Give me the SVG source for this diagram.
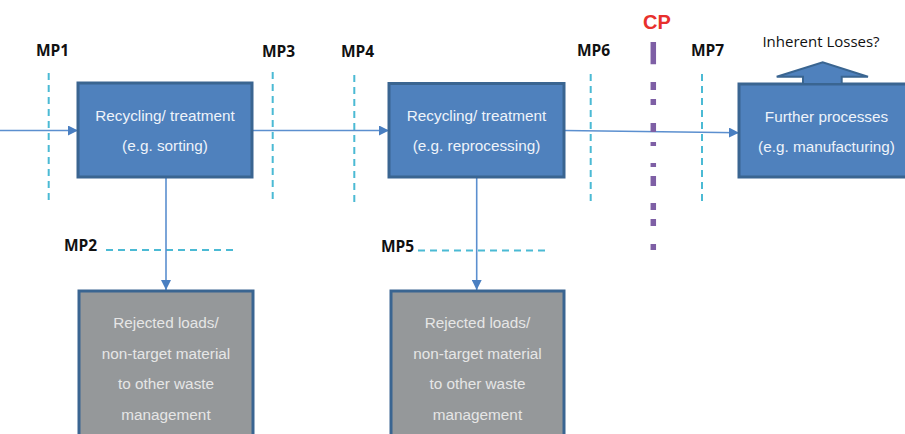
<svg xmlns="http://www.w3.org/2000/svg" width="905" height="434" viewBox="0 0 905 434">
<defs>
<style>
.box{fill:#4f81bd;stroke:#3a6591;stroke-width:3}
.grey{fill:#95989a;stroke:#3a6591;stroke-width:3}
.bt{font-family:"Liberation Sans",Arial,sans-serif;font-size:15.3px;fill:#eef3fa;text-anchor:middle}
.gt{font-family:"Liberation Sans",Arial,sans-serif;font-size:15.3px;fill:#e6e6e6;text-anchor:middle}
.mp{font-family:"Open Sans","Liberation Sans",sans-serif;font-weight:bold;font-size:15.5px;fill:#111}
.mpl{stroke:#4bbad4;stroke-width:2;stroke-dasharray:7 5;fill:none}
.con{stroke:#5b8fcf;stroke-width:1.6;fill:none}
</style>
<marker id="ah" viewBox="0 0 10 10" refX="10" refY="5" markerWidth="10" markerHeight="10" markerUnits="userSpaceOnUse" orient="auto">
<path d="M0,0 L10,5 L0,10 Z" fill="#4a7fc1"/>
</marker>
</defs>
<rect width="905" height="434" fill="#ffffff"/>

<g id="measure-points">
<line class="mpl" x1="48.7" y1="73" x2="48.7" y2="200"/>
<line class="mpl" x1="272.7" y1="72" x2="272.7" y2="200"/>
<line class="mpl" x1="354.3" y1="75" x2="354.3" y2="202"/>
<line class="mpl" x1="590.7" y1="74" x2="590.7" y2="202"/>
<line class="mpl" x1="702" y1="74" x2="702" y2="202"/>
<line class="mpl" x1="106" y1="250" x2="236" y2="250"/>
<line class="mpl" x1="418" y1="250.5" x2="546" y2="250.5"/>
<text class="mp" x="36" y="56">MP1</text>
<text class="mp" x="262" y="57">MP3</text>
<text class="mp" x="341" y="57">MP4</text>
<text class="mp" x="577" y="56">MP6</text>
<text class="mp" x="691" y="56">MP7</text>
<text class="mp" x="64" y="251">MP2</text>
<text class="mp" x="381" y="252">MP5</text>
</g>

<g id="connectors">
<line class="con" x1="0" y1="130.5" x2="78" y2="130.5" marker-end="url(#ah)"/>
<line class="con" x1="252" y1="130.5" x2="389" y2="130.5" marker-end="url(#ah)"/>
<line class="con" x1="564" y1="130.5" x2="739" y2="132.7" marker-end="url(#ah)"/>
<line class="con" x1="166" y1="177" x2="166" y2="290" marker-end="url(#ah)"/>
<line class="con" x1="476.7" y1="177" x2="476.7" y2="290" marker-end="url(#ah)"/>
</g>

<g id="cp">
<path d="M653.3,42V64.3M653.3,82V90M653.3,99V105M653.3,123V132M653.3,142V146M653.3,163V167M653.3,176V186M653.3,203V210M653.3,219V226M653.3,244V250" stroke="#7e5fa5" stroke-width="5.5" fill="none"/>
<text x="657" y="29" font-family="Liberation Sans,Arial,sans-serif" font-weight="bold" font-size="20" fill="#e8302c" text-anchor="middle">CP</text>
</g>

<g id="box1">
<rect class="box" x="78" y="83" width="174" height="94"/>
<text class="bt" x="165" y="121">Recycling/ treatment</text>
<text class="bt" x="165" y="151">(e.g. sorting)</text>
</g>

<g id="box2">
<rect class="box" x="389" y="83.5" width="175" height="93.5"/>
<text class="bt" x="476.5" y="121">Recycling/ treatment</text>
<text class="bt" x="476.5" y="151">(e.g. reprocessing)</text>
</g>

<g id="box3">
<rect class="box" x="739" y="84" width="180" height="93"/>
<text class="bt" x="826.5" y="122">Further processes</text>
<text class="bt" x="826.5" y="152">(e.g. manufacturing)</text>
</g>

<g id="losses">
<path d="M803,84 V76.7 H776.7 L822.7,62.3 L868,76.7 H841.7 V84 Z" fill="#4f81bd" stroke="#3a6591" stroke-width="2" stroke-linejoin="miter"/>
<text x="821" y="47" font-family="Open Sans,Liberation Sans,sans-serif" font-size="15" fill="#111" text-anchor="middle">Inherent Losses?</text>
</g>

<g id="reject1">
<rect class="grey" x="79" y="291" width="174" height="160"/>
<text class="gt" x="166" y="328">Rejected loads/</text>
<text class="gt" x="166" y="358.5">non-target material</text>
<text class="gt" x="166" y="389">to other waste</text>
<text class="gt" x="166" y="419.5">management</text>
</g>

<g id="reject2">
<rect class="grey" x="391" y="291" width="173" height="160"/>
<text class="gt" x="477.5" y="328">Rejected loads/</text>
<text class="gt" x="477.5" y="358.5">non-target material</text>
<text class="gt" x="477.5" y="389">to other waste</text>
<text class="gt" x="477.5" y="419.5">management</text>
</g>
</svg>
